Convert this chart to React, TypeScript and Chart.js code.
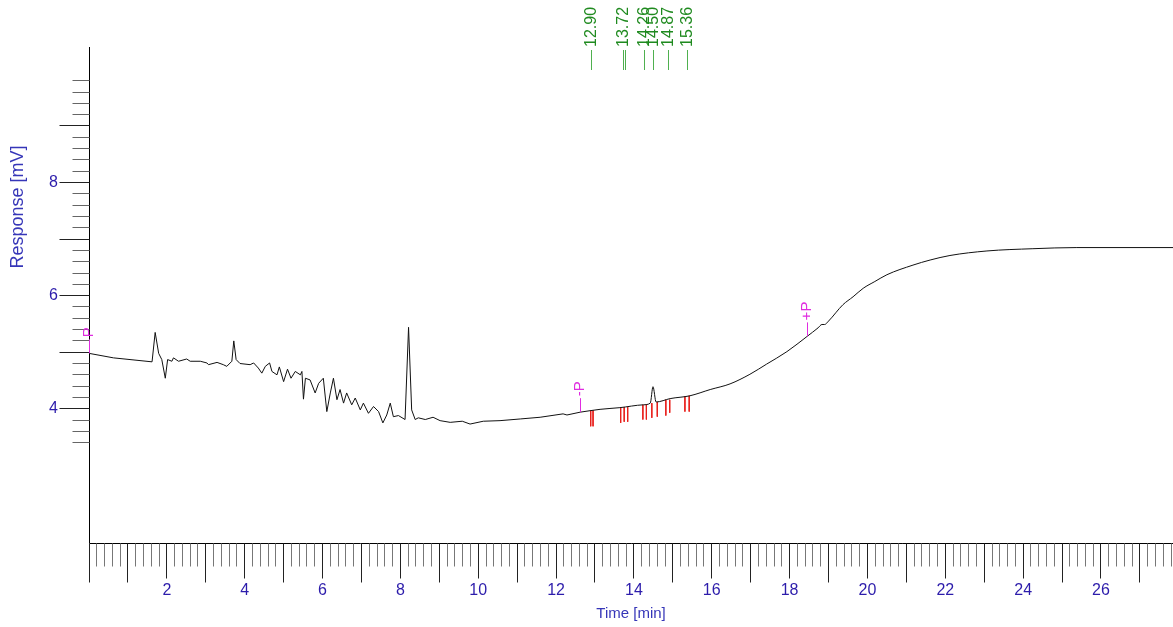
import React, { useEffect, useRef } from 'react';
import { Chart, registerables } from 'chart.js';

Chart.register(...registerables);

// Chromatogram trace: time (min) and detector response (mV)
const timeMin = [
  0.0, 0.63, 1.62, 1.7, 1.79, 1.87, 1.96, 2.02, 2.13, 2.17, 2.3, 2.51, 2.6, 2.86, 3.03, 3.07,
  3.29, 3.45, 3.54, 3.67, 3.72, 3.78, 3.88, 4.14, 4.23, 4.35, 4.44, 4.53, 4.64, 4.7, 4.83, 4.89,
  5.0, 5.1, 5.19, 5.3, 5.43, 5.47, 5.51, 5.56, 5.68, 5.81, 5.9, 6.02, 6.11, 6.2, 6.28, 6.37,
  6.45, 6.54, 6.62, 6.75, 6.84, 6.97, 7.05, 7.18, 7.31, 7.44, 7.55, 7.65, 7.74, 7.82, 7.95, 8.12,
  8.21, 8.29, 8.38, 8.46, 8.64, 8.84, 9.02, 9.28, 9.59, 9.79, 10.13, 10.56, 11.08, 11.59, 12.18, 12.28,
  12.62, 13.13, 13.64, 14.24, 14.42, 14.49, 14.57, 14.93, 15.44, 15.96, 16.47, 16.98, 17.41, 17.93, 18.45, 18.73,
  18.83, 18.9, 19.0, 19.37, 19.63, 19.89, 20.19, 20.5, 21.17, 21.61, 22.12, 23.07, 24.25, 25.38, 27.85,
];
const responseMv = [
  4.98, 4.9, 4.83, 5.35, 4.98, 4.87, 4.54, 4.87, 4.84, 4.9, 4.84, 4.88, 4.84, 4.84, 4.81, 4.78,
  4.82, 4.78, 4.75, 4.84, 5.2, 4.87, 4.8, 4.78, 4.81, 4.72, 4.63, 4.75, 4.81, 4.66, 4.6, 4.74,
  4.48, 4.7, 4.54, 4.66, 4.6, 4.66, 4.17, 4.54, 4.51, 4.28, 4.45, 4.54, 3.95, 4.28, 4.54, 4.16,
  4.34, 4.1, 4.28, 4.07, 4.19, 3.98, 4.1, 3.92, 4.04, 3.95, 3.75, 3.89, 4.1, 3.86, 3.88, 3.81,
  5.44, 3.98, 3.81, 3.84, 3.81, 3.85, 3.79, 3.76, 3.78, 3.73, 3.78, 3.79, 3.82, 3.85, 3.91, 3.89,
  3.94, 3.99, 4.02, 4.07, 4.1, 4.39, 4.12, 4.18, 4.23, 4.34, 4.44, 4.61, 4.79, 5.01, 5.28, 5.43,
  5.49, 5.49, 5.55, 5.84, 5.98, 6.13, 6.25, 6.37, 6.54, 6.63, 6.71, 6.79, 6.83, 6.85, 6.85,
];
// the trace is drawn straight (noisy part) up to this time, smoothed after it
const smoothFrom = 12.62;

// Red integration marks (peak start / end)
const markerTimes = [12.89, 12.95, 13.66, 13.75, 13.84, 14.23, 14.32, 14.46, 14.6, 14.82, 14.92, 15.31, 15.42];
const markerTops = [3.97, 3.97, 4.02, 4.03, 4.03, 4.07, 4.08, 4.1, 4.12, 4.16, 4.16, 4.22, 4.23];
const markerBottoms = [3.69, 3.69, 3.75, 3.77, 3.77, 3.81, 3.81, 3.84, 3.86, 3.88, 3.93, 3.95, 3.95];

// Green retention-time labels at the top
const peakTimes = [12.9, 13.72, 13.77, 14.26, 14.5, 14.87, 15.36];
const peakLabels = ['12.90', '13.72', '', '14.26', '14.50', '14.87', '15.36'];

// Magenta event markers
const eventTimes = [0.0, 12.62, 18.45];
const eventValues = [4.98, 3.94, 5.28];
const eventLabels = ['P', '-P', '+P'];

// Axis ticks
const xTickValues = [2, 4, 6, 8, 10, 12, 14, 16, 18, 20, 22, 24, 26];
const yTickValues = [4, 6, 8];
const xMin = 0;
const xMax = 27.85;
const yMin = 1.627;
const yMax = 10.396;
const yRulerFrom = 3.4;
const yRulerTo = 9.8;
const minorStep = 0.2;

const FONT = '"Liberation Sans", Arial, sans-serif';
const BLUE = '#2c1cab';
const TITLE_BLUE = '#3636b8';
const GREEN = '#1f8a1f';
const GREEN_LINE = '#4fb04f';
const MAGENTA = '#e02ce0';
const RED = '#e8201c';

const decorPlugin = {
  id: 'decor',
  afterDraw(chart: any) {
    const { ctx, chartArea: ca, scales } = chart;
    const x = scales.x;
    const y = scales.y;
    ctx.save();

    // axis lines
    ctx.strokeStyle = '#000';
    ctx.lineWidth = 1;
    ctx.beginPath();
    const ax = Math.round(ca.left) + 0.5;
    const ay = Math.round(ca.bottom) + 0.5;
    ctx.moveTo(ax, ca.top);
    ctx.lineTo(ax, ay);
    ctx.lineTo(ca.right, ay);
    ctx.stroke();

    // x ruler ticks
    const nX = Math.floor((xMax - xMin) / minorStep + 1e-6);
    for (let i = 0; i <= nX; i++) {
      const v = xMin + i * minorStep;
      const px = Math.floor(x.getPixelForValue(v)) + 0.5;
      let len = 23;
      let col = '#777';
      if (i % 5 === 0) {
        const even = i % 10 === 0;
        len = even && i !== 0 ? 35 : 39;
        col = '#222';
      }
      ctx.strokeStyle = col;
      ctx.beginPath();
      ctx.moveTo(px, ay);
      ctx.lineTo(px, ay + len);
      ctx.stroke();
    }

    // y ruler ticks
    const j0 = Math.round(yRulerFrom / minorStep);
    const j1 = Math.round(yRulerTo / minorStep);
    for (let j = j0; j <= j1; j++) {
      const v = j * minorStep;
      const py = Math.floor(y.getPixelForValue(v)) + 0.5;
      const major = j % 5 === 0;
      const len = major ? 30 : 17;
      ctx.strokeStyle = major ? '#222' : '#666';
      ctx.beginPath();
      ctx.moveTo(ax - len, py);
      ctx.lineTo(ax, py);
      ctx.stroke();
    }

    // y axis title
    ctx.save();
    ctx.translate(18, 207);
    ctx.rotate(-Math.PI / 2);
    ctx.font = `18px ${FONT}`;
    ctx.fillStyle = TITLE_BLUE;
    ctx.textAlign = 'center';
    ctx.textBaseline = 'middle';
    ctx.fillText('Response [mV]', 0, 0);
    ctx.restore();

    // green peak labels
    peakTimes.forEach((t, k) => {
      const px = Math.round(x.getPixelForValue(t)) + 0.5;
      ctx.strokeStyle = GREEN_LINE;
      ctx.lineWidth = 1;
      ctx.beginPath();
      ctx.moveTo(px, 70);
      ctx.lineTo(px, 50);
      ctx.stroke();
      if (peakLabels[k]) {
        ctx.save();
        ctx.translate(px, 47);
        ctx.rotate(-Math.PI / 2);
        ctx.font = `16px ${FONT}`;
        ctx.fillStyle = GREEN;
        ctx.textAlign = 'left';
        ctx.textBaseline = 'middle';
        ctx.fillText(peakLabels[k], 0, 0);
        ctx.restore();
      }
    });

    // magenta event markers
    eventTimes.forEach((t, k) => {
      const px = Math.round(x.getPixelForValue(t)) + 0.5;
      const py = y.getPixelForValue(eventValues[k]);
      ctx.strokeStyle = MAGENTA;
      ctx.lineWidth = 1;
      ctx.beginPath();
      ctx.moveTo(px, py);
      ctx.lineTo(px, py - 14);
      ctx.stroke();
      ctx.save();
      ctx.translate(px - 1, py - 16);
      ctx.rotate(-Math.PI / 2);
      ctx.font = `15px ${FONT}`;
      ctx.fillStyle = MAGENTA;
      ctx.textAlign = 'left';
      ctx.textBaseline = 'middle';
      ctx.fillText(eventLabels[k], 0, 0);
      ctx.restore();
    });

    ctx.restore();
  },
};

export default function App() {
  const ref = useRef<HTMLCanvasElement>(null);

  useEffect(() => {
    document.body.style.margin = '0';
    const traceData = timeMin.map((t, i) => ({ x: t, y: responseMv[i] }));
    const noisyPart = traceData.filter((p) => p.x <= smoothFrom);
    const smoothPart = traceData.filter((p) => p.x >= smoothFrom);
    const markData: { x: number; y: number | null }[] = [];
    markerTimes.forEach((t, i) => {
      markData.push({ x: t, y: markerTops[i] });
      markData.push({ x: t, y: markerBottoms[i] });
      markData.push({ x: t, y: null });
    });

    const chart = new Chart(ref.current as HTMLCanvasElement, {
      type: 'line',
      data: {
        datasets: [
          {
            label: 'Response',
            data: noisyPart,
            borderColor: '#111',
            borderWidth: 1,
            pointRadius: 0,
            tension: 0,
            fill: false,
          },
          {
            label: 'Response (cont.)',
            data: smoothPart,
            borderColor: '#111',
            borderWidth: 1,
            pointRadius: 0,
            cubicInterpolationMode: 'monotone',
            fill: false,
          },
          {
            label: 'Integration marks',
            data: markData as any,
            borderColor: RED,
            borderWidth: 1,
            pointRadius: 0,
            spanGaps: false,
            tension: 0,
            fill: false,
          },
        ],
      },
      options: {
        animation: false,
        responsive: false,
        events: [],
        layout: { padding: { top: 47, left: 0, right: 0, bottom: 0 } },
        plugins: {
          legend: { display: false },
          tooltip: { enabled: false },
        },
        scales: {
          x: {
            type: 'linear',
            min: xMin,
            max: xMax,
            afterBuildTicks: (s: any) => {
              s.ticks = xTickValues.map((v) => ({ value: v }));
            },
            afterFit: (s: any) => {
              s.height = 84;
            },
            border: { display: false },
            grid: {
              drawOnChartArea: false,
              drawTicks: true,
              tickLength: 36,
              color: 'rgba(0,0,0,0)',
            },
            ticks: {
              autoSkip: false,
              maxRotation: 0,
              padding: 2,
              color: BLUE,
              font: { family: FONT, size: 16 },
              callback: (v: any) => String(v),
            },
            title: {
              display: true,
              text: 'Time [min]',
              color: TITLE_BLUE,
              font: { family: FONT, size: 15 },
              padding: { top: 0, bottom: 4 },
            },
          },
          y: {
            type: 'linear',
            min: yMin,
            max: yMax,
            afterBuildTicks: (s: any) => {
              s.ticks = yTickValues.map((v) => ({ value: v }));
            },
            afterFit: (s: any) => {
              s.width = 89;
            },
            border: { display: false },
            grid: {
              drawOnChartArea: false,
              drawTicks: true,
              tickLength: 30,
              color: 'rgba(0,0,0,0)',
            },
            ticks: {
              autoSkip: false,
              padding: 1,
              color: BLUE,
              font: { family: FONT, size: 16 },
              callback: (v: any) => String(v),
            },
          },
        },
      },
      plugins: [decorPlugin],
    });
    return () => chart.destroy();
  }, []);

  return (
    <div style={{ width: 1173, height: 627 }}>
      <canvas ref={ref} width={1173} height={627} style={{ display: 'block' }} />
    </div>
  );
}
